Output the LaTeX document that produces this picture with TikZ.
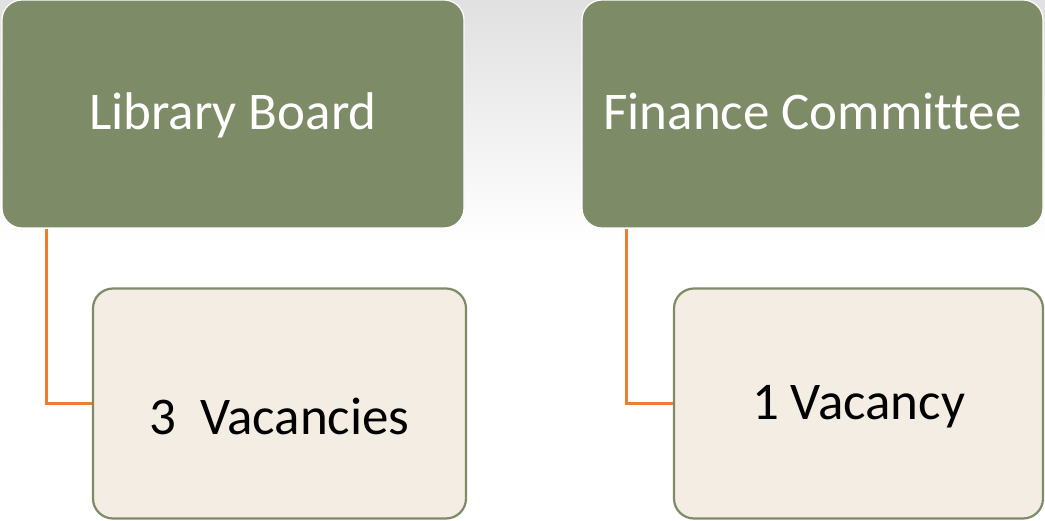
\documentclass[tikz,border=0pt]{standalone}
\usepackage{fontspec}
\setmainfont[Ligatures=NoCommon]{Carlito}
\usepackage{tikz}
\definecolor{olive}{RGB}{125,139,102}
\definecolor{cream}{RGB}{243,237,227}
\definecolor{linkorange}{RGB}{237,125,49}
\tikzset{
  head/.style={draw=white,line width=1.2pt,fill=olive,rounded corners=20pt,
    text=white,font=\fontsize{53}{60}\selectfont,inner sep=0pt,
    minimum height=228pt,text height=32pt,text depth=1pt},
  seat/.style={draw=olive,line width=2.2pt,fill=cream,rounded corners=20pt,
    text=black,font=\fontsize{53}{60}\selectfont,inner sep=0pt,
    minimum height=230pt,text height=34pt,text depth=1pt},
  link/.style={draw=linkorange,line width=2.2pt}
}

\begin{document}
\begin{tikzpicture}[x=1pt,y=-1pt]
                \useasboundingbox (0,0) rectangle (1045,521);
                \shade[top color=black!12,bottom color=white] (0,0) rectangle (1045,245);
                \node[head,minimum width=462pt] (lb) at (233,114) {Library Board};
                \node[head,minimum width=461pt] (fc) at (812.5,114) {Finance Committee};
                \node[seat,minimum width=373pt,text height=64pt] (lbv) at (279.5,403.5) {3\ \ Vacancies};
                \node[seat,minimum width=369pt] (fcv) at (858.5,403.5) {1 Vacancy};
                \coordinate (lbroot) at ([xshift=45pt]lb.south west);
                \coordinate (fcroot) at ([xshift=45pt]fc.south west);
                \draw[link] (lbroot) |- (lbv.west);
                \draw[link] (fcroot) |- (fcv.west);
            \end{tikzpicture}
\end{document}
